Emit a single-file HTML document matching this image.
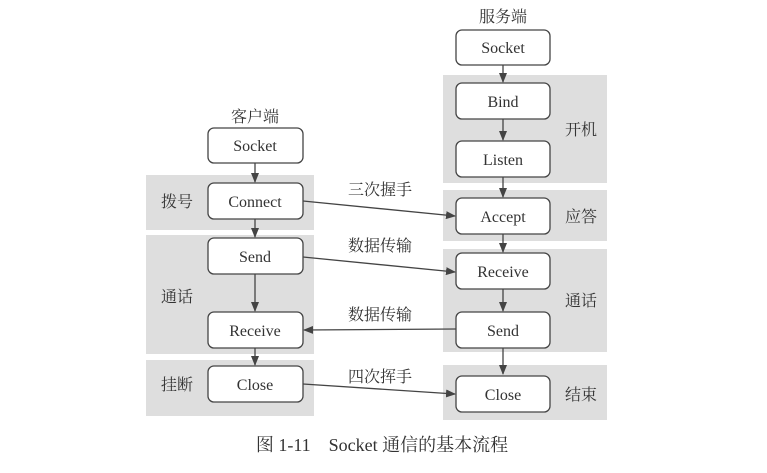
<!DOCTYPE html>
<html><head><meta charset="utf-8"><style>
body{margin:0;background:#fff}
svg text{font-family:"Liberation Serif","Noto Serif CJK SC",serif;fill:#333}
.b{fill:#fff;stroke:#444;stroke-width:1.3}
.g{fill:#dedede}
.l{stroke:#444;stroke-width:1.3;fill:none}
</style></head><body>
<svg width="767" height="468" viewBox="0 0 767 468" xmlns="http://www.w3.org/2000/svg">
<defs><marker id="a" markerWidth="10" markerHeight="8" refX="9" refY="4" orient="auto" markerUnits="userSpaceOnUse"><path d="M0,0 L10,4 L0,8 z" fill="#444"/></marker></defs>
<rect class="g" x="146" y="175" width="168" height="55"/>
<rect class="g" x="146" y="235" width="168" height="119"/>
<rect class="g" x="146" y="360" width="168" height="56"/>
<rect class="g" x="443" y="75" width="164" height="108"/>
<rect class="g" x="443" y="190" width="164" height="51"/>
<rect class="g" x="443" y="249" width="164" height="103"/>
<rect class="g" x="443" y="365" width="164" height="55"/>
<g class="l">
<line x1="255" y1="163" x2="255" y2="182" marker-end="url(#a)"/>
<line x1="255" y1="219" x2="255" y2="237" marker-end="url(#a)"/>
<line x1="255" y1="274" x2="255" y2="311" marker-end="url(#a)"/>
<line x1="255" y1="348" x2="255" y2="365" marker-end="url(#a)"/>
<line x1="503" y1="65" x2="503" y2="82" marker-end="url(#a)"/>
<line x1="503" y1="119" x2="503" y2="140" marker-end="url(#a)"/>
<line x1="503" y1="177" x2="503" y2="197" marker-end="url(#a)"/>
<line x1="503" y1="234" x2="503" y2="252" marker-end="url(#a)"/>
<line x1="503" y1="289" x2="503" y2="311" marker-end="url(#a)"/>
<line x1="503" y1="348" x2="503" y2="374" marker-end="url(#a)"/>
<line x1="303" y1="201" x2="455" y2="216" marker-end="url(#a)"/>
<line x1="303" y1="257" x2="455" y2="272" marker-end="url(#a)"/>
<line x1="456" y1="329" x2="304" y2="330" marker-end="url(#a)"/>
<line x1="303" y1="384" x2="455" y2="394" marker-end="url(#a)"/>
</g>
<g>
<rect class="b" x="208" y="128" width="95" height="35" rx="6"/>
<rect class="b" x="208" y="183" width="95" height="36" rx="6"/>
<rect class="b" x="208" y="238" width="95" height="36" rx="6"/>
<rect class="b" x="208" y="312" width="95" height="36" rx="6"/>
<rect class="b" x="208" y="366" width="95" height="36" rx="6"/>
<rect class="b" x="456" y="30" width="94" height="35" rx="6"/>
<rect class="b" x="456" y="83" width="94" height="36" rx="6"/>
<rect class="b" x="456" y="141" width="94" height="36" rx="6"/>
<rect class="b" x="456" y="198" width="94" height="36" rx="6"/>
<rect class="b" x="456" y="253" width="94" height="36" rx="6"/>
<rect class="b" x="456" y="312" width="94" height="36" rx="6"/>
<rect class="b" x="456" y="376" width="94" height="36" rx="6"/>
</g>
<g font-size="16" text-anchor="middle">
<text x="255" y="151">Socket</text>
<text x="255" y="207">Connect</text>
<text x="255" y="262">Send</text>
<text x="255" y="336">Receive</text>
<text x="255" y="390">Close</text>
<text x="503" y="53">Socket</text>
<text x="503" y="107">Bind</text>
<text x="503" y="165">Listen</text>
<text x="503" y="222">Accept</text>
<text x="503" y="277">Receive</text>
<text x="503" y="336">Send</text>
<text x="503" y="400">Close</text>
<text x="255" y="122">客户端</text>
<text x="503" y="22">服务端</text>
<text x="177" y="207">拨号</text>
<text x="177" y="302">通话</text>
<text x="177" y="390">挂断</text>
<text x="581" y="135">开机</text>
<text x="581" y="222">应答</text>
<text x="581" y="306">通话</text>
<text x="581" y="400">结束</text>
<text x="380" y="195">三次握手</text>
<text x="380" y="251">数据传输</text>
<text x="380" y="320">数据传输</text>
<text x="380" y="382">四次挥手</text>
<text x="382" y="451" font-size="18">图 1-11　Socket 通信的基本流程</text>
</g>
</svg>
</body></html>
